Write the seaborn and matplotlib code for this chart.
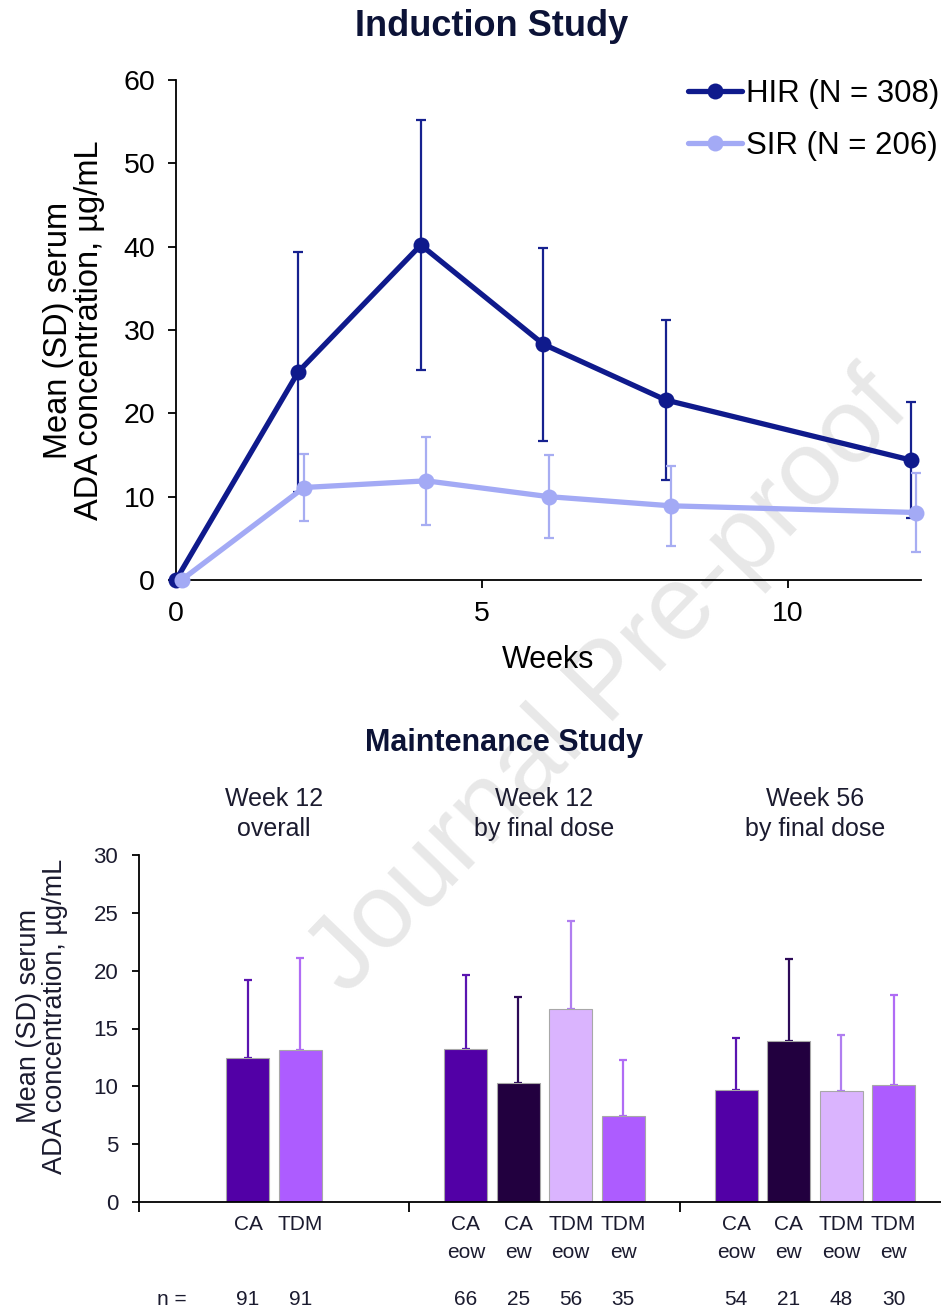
import numpy as np
import pandas as pd
import matplotlib
matplotlib.use("Agg")
import matplotlib.pyplot as plt
import seaborn as sns

# ---------------- Induction study: mean (SD) serum ADA by week ----------------
weeks = [0, 2, 4, 6, 8, 12]
hir_mean = [0.0, 25.0, 40.2, 28.3, 21.6, 14.4]
hir_sd = [0.0, 14.4, 15.0, 11.6, 9.6, 7.0]
sir_mean = [0.0, 11.1, 11.9, 10.0, 8.9, 8.1]
sir_sd = [0.0, 4.0, 5.3, 5.0, 4.8, 4.7]
regimens = ["HIR (N = 308)", "SIR (N = 206)"]

# ---------------- Maintenance study: mean (SD) by arm ----------------
group_titles = ["Week 12\noverall", "Week 12\nby final dose", "Week 56\nby final dose"]
bar_group = [0, 0, 1, 1, 1, 1, 2, 2, 2, 2]
bar_arm = ["CA", "TDM", "CA eow", "CA ew", "TDM eow", "TDM ew",
           "CA eow", "CA ew", "TDM eow", "TDM ew"]
bar_labels = ["CA", "TDM", "CA\neow", "CA\new", "TDM\neow", "TDM\new",
              "CA\neow", "CA\new", "TDM\neow", "TDM\new"]
bar_mean = [12.45, 13.1, 13.25, 10.3, 16.7, 7.4, 9.65, 13.9, 9.57, 10.1]
bar_sd = [6.7, 8.0, 6.35, 7.4, 7.6, 4.85, 4.55, 7.15, 4.9, 7.8]
bar_n = [91, 91, 66, 25, 56, 35, 54, 21, 48, 30]

line_colors = {"HIR (N = 308)": "#0f1a8c", "SIR (N = 206)": "#a3aaf5"}
err_colors = {"HIR (N = 308)": "#16218f", "SIR (N = 206)": "#a7adf2"}
arm_colors = {"CA": "#5200a6", "TDM": "#ad5cff", "CA eow": "#5200a6",
              "CA ew": "#22003f", "TDM eow": "#dab4fe", "TDM ew": "#ad5cff"}
arm_err = {"CA": "#5a14b0", "TDM": "#b06cf5", "CA eow": "#5a14b0",
           "CA ew": "#2d0a58", "TDM eow": "#b07ef0", "TDM ew": "#b06cf5"}

sns.set_theme(style="ticks")
plt.rcParams["font.family"] = ["Liberation Sans", "DejaVu Sans"]

W, H = 941, 1313
fig = plt.figure(figsize=(W / 100, H / 100), dpi=100)

def fx(px):
    return px / W

def fy(py):
    return 1 - py / H

title_color = "#0c1337"
text_dark = "#1b1b2f"

# Background watermark
fig.text(fx(610), fy(684), "Journal Pre-proof", rotation=46, fontsize=76,
         color="#e8e8e8", ha="center", va="center", zorder=-1)

# ======================= Induction study =======================
ax1 = fig.add_axes([fx(176), fy(580), fx(921) - fx(176), fy(80) - fy(580)])
ax1.patch.set_alpha(0)

dodge = {"HIR (N = 308)": 0.0, "SIR (N = 206)": 0.09}
ind = pd.DataFrame({
    "week": weeks * 2,
    "mean": hir_mean + sir_mean,
    "sd": hir_sd + sir_sd,
    "regimen": [regimens[0]] * len(weeks) + [regimens[1]] * len(weeks),
})
ind["xpos"] = ind["week"] + ind["regimen"].map(dodge)

# SD error bars beneath the lines
for reg in regimens:
    d = ind[ind["regimen"] == reg]
    ax1.errorbar(d["xpos"][1:], d["mean"][1:], yerr=d["sd"][1:], fmt="none",
                 ecolor=err_colors[reg], elinewidth=1.6, capsize=3.8,
                 capthick=1.6, zorder=2, clip_on=False)

sns.lineplot(data=ind, x="xpos", y="mean", hue="regimen", hue_order=regimens,
             palette=line_colors, marker="o", markersize=11.5,
             markeredgewidth=0, linewidth=3.8, ax=ax1, zorder=3)
for ln in ax1.get_lines():
    ln.set_clip_on(False)

ax1.set_xlim(0, 12.17)
ax1.set_ylim(0, 60)
ax1.set_xticks([0, 5, 10])
ax1.set_yticks(range(0, 61, 10))
sns.despine(ax=ax1)
for s in ["left", "bottom"]:
    ax1.spines[s].set_color("black")
    ax1.spines[s].set_linewidth(1.3)
ax1.tick_params(axis="both", colors="black", labelsize=20.5, width=1.3,
                length=6, direction="out")
ax1.tick_params(axis="x", pad=9)
ax1.tick_params(axis="y", pad=9)
ax1.set_xlabel("Weeks", fontsize=22, color="black")
ax1.xaxis.set_label_coords(0.5, -0.13)
ax1.set_ylabel("Mean (SD) serum\nADA concentration, µg/mL", fontsize=23.5,
               color="black", linespacing=1.0)
ax1.yaxis.set_label_coords(-0.095, 0.5)

handles, labels = ax1.get_legend_handles_labels()
leg = ax1.legend(handles, labels, loc="upper left",
                 bbox_to_anchor=(fx(688), fy(79)), bbox_transform=fig.transFigure,
                 frameon=False, fontsize=22.5, handlelength=1.72,
                 handletextpad=0.12, labelspacing=0.7, borderpad=0,
                 borderaxespad=0)
for t in leg.get_texts():
    t.set_color("black")

fig.text(fx(492), fy(27), "Induction Study", fontsize=26, fontweight="bold",
         color=title_color, ha="center", va="center")

# ======================= Maintenance study =======================
ax2 = fig.add_axes([fx(139), fy(1202), fx(950) - fx(139), fy(855) - fy(1202)])
ax2.patch.set_alpha(0)

pitch = 0.194
group_sizes = [bar_group.count(g) for g in range(3)]
slot = []
for g in range(3):
    k = group_sizes[g]
    slot += [i - (k - 1) / 2 for i in range(k)]
bar_pos = [g + s * pitch for g, s in zip(bar_group, slot)]

maint = pd.DataFrame({"pos": bar_pos, "mean": bar_mean, "sd": bar_sd,
                      "arm": bar_arm})

for x, m, s, a in zip(bar_pos, bar_mean, bar_sd, bar_arm):
    ax2.errorbar([x], [m], yerr=[[0], [s]], fmt="none", ecolor=arm_err[a],
                 elinewidth=1.6, capsize=3.2, capthick=1.6, zorder=1)

sns.barplot(data=maint, x="pos", y="mean", hue="arm", palette=arm_colors,
            native_scale=True, dodge=False, width=0.82, errorbar=None,
            saturation=1, edgecolor="#a8a8a8", linewidth=0.8, legend=False,
            ax=ax2, zorder=2)

ax2.set_xlim(-0.5, 2.5)
ax2.set_ylim(0, 30)
ax2.set_yticks(range(0, 31, 5))
ax2.set_xticks([-0.5, 0.5, 1.5, 2.5])
ax2.set_xticklabels([])
ax2.set_xticks(bar_pos, labels=bar_labels, minor=True)
for t in ax2.get_xticklabels(minor=True):
    t.set_linespacing(1.6)
sns.despine(ax=ax2)
for s in ["left", "bottom"]:
    ax2.spines[s].set_color("black")
    ax2.spines[s].set_linewidth(1.3)
ax2.tick_params(axis="x", which="major", length=7, width=1.3, colors="black")
ax2.tick_params(axis="x", which="minor", length=0, pad=9, labelsize=15,
                labelcolor=text_dark)
ax2.tick_params(axis="y", length=5, width=1.3, colors="black", pad=10,
                labelsize=16, labelcolor=text_dark)
ax2.set_xlabel("")
ax2.set_ylabel("Mean (SD) serum\nADA concentration, µg/mL", fontsize=19.5,
               color=text_dark, linespacing=1.0)
ax2.yaxis.set_label_coords(-0.088, 0.535)

xtr = ax2.get_xaxis_transform()
for g, title in enumerate(group_titles):
    ax2.text(g, 1.04, title, transform=xtr, ha="center", va="bottom",
             fontsize=18, color=text_dark, linespacing=1.3)
ax2.text(-0.378, -0.282, "n =", transform=xtr, ha="center", va="center",
         fontsize=15, color=text_dark)
for x, n in zip(bar_pos, bar_n):
    ax2.text(x, -0.282, str(n), transform=xtr, ha="center", va="center",
             fontsize=15, color=text_dark)

fig.text(fx(504), fy(743), "Maintenance Study", fontsize=22, fontweight="bold",
         color=title_color, ha="center", va="center")

fig.savefig("out.png", dpi=100)
